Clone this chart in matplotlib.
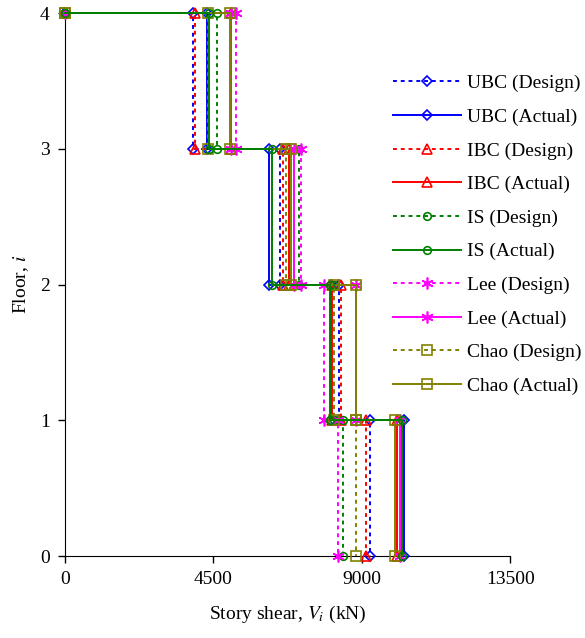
import numpy as np
import matplotlib
matplotlib.use('Agg')
import matplotlib.pyplot as plt

plt.rcParams['font.family'] = ['Liberation Serif', 'DejaVu Serif']
plt.rcParams['mathtext.fontset'] = 'stix'
plt.rcParams['font.size'] = 14

# floors and story shears (kN), values listed from floor 1 up to floor 4
floors = [1, 2, 3, 4]
labels = ['UBC (Design)', 'UBC (Actual)', 'IBC (Design)', 'IBC (Actual)',
          'IS (Design)', 'IS (Actual)', 'Lee (Design)', 'Lee (Actual)',
          'Chao (Design)', 'Chao (Actual)']
ubc_design = [9250, 8310, 6520, 3880]
ubc_actual = [10290, 8070, 6190, 4310]
ibc_design = [9130, 8370, 6610, 3940]
ibc_actual = [10070, 8090, 6800, 5040]
is_design = [8430, 8160, 7100, 4610]
is_actual = [10220, 8040, 6280, 4370]
lee_design = [8280, 7860, 7160, 5190]
lee_actual = [10160, 8830, 6950, 5040]
chao_design = [8830, 8160, 6700, 4340]
chao_actual = [10010, 8830, 6860, 5010]

series = [ubc_design, ubc_actual, ibc_design, ibc_actual, is_design,
          is_actual, lee_design, lee_actual, chao_design, chao_actual]
colors = ['#0000ff', '#0000ff', '#ff0000', '#ff0000', '#008000',
          '#008000', '#ff00ff', '#ff00ff', '#808000', '#808000']
markers = ['D', 'D', '^', '^', 'o', 'o', (6, 2, 0), (6, 2, 0), 's', 's']
msizes = [5, 5, 7.5, 7.5, 5.5, 5.5, 8.5, 8.5, 6.5, 6.5]
dotted = (0, (2, 2))

fig = plt.figure(figsize=(5.85, 6.38), dpi=100)
ax = fig.add_axes([0.111, 0.1285, 0.761, 0.851])

#ступінчасті лінії: (0,4) -> V4 -> ... -> V1 до поверху 0
for i, v in enumerate(series):
    xs = [0]
    ys = [floors[-1]]
    for k in range(len(floors) - 1, -1, -1):
        xs += [v[k], v[k]]
        ys += [floors[k], floors[k] - 1]
    ls = dotted if i % 2 == 0 else '-'
    ax.plot(xs, ys, linestyle=ls, color=colors[i], lw=1.4,
            marker=markers[i], ms=msizes[i], mfc='none', mec=colors[i],
            mew=1.2, label=labels[i], clip_on=False,
            zorder=4 if i == 5 else 3)

ax.set_xlim(0, 13500)
ax.set_ylim(0, 4)
ax.set_xticks([0, 4500, 9000, 13500])
ax.set_yticks([0, 1, 2, 3, 4])
ax.spines['top'].set_visible(False)
ax.spines['right'].set_visible(False)
ax.tick_params(direction='out', length=5, width=1, pad=6)
ax.set_xlabel('Story shear, $V_i$ (kN)', labelpad=11)
ax.set_ylabel('Floor, $i$', labelpad=6)

fig.legend(loc='upper left', bbox_to_anchor=(0.672, 0.883), frameon=False,
           handlelength=3.5, handletextpad=0.3, labelspacing=0.82,
           borderpad=0, borderaxespad=0)

fig.savefig('out.png', dpi=100)
